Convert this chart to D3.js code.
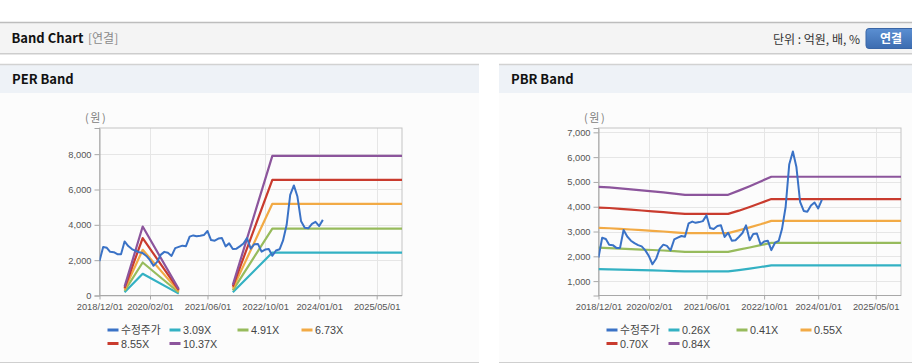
<!DOCTYPE html>
<html><head><meta charset="utf-8">
<script src="https://cdn.jsdelivr.net/npm/d3@7"></script>
<style>body{margin:0;background:#fff;} svg{display:block}</style>
</head><body><svg id="c" width="912" height="364"></svg>
<script>
// ---------- DATA ----------
const xTickLabels = ["2018/12/01","2020/02/01","2021/06/01","2022/10/01","2024/01/01","2025/05/01"];
const xDomain = ["2018-12-01","2025-12-01"];

// 수정주가 (monthly from 2018-12)
const priceStart = "2018-12-01";
const priceValues = [
  1950, 2750, 2700, 2470, 2450, 2340, 2340, 3060, 2800, 2630,
  2530, 2450, 2400, 2240, 2000, 1680, 1900, 2300, 2470, 2420,
  2240, 2680, 2750, 2820, 2790, 3330, 3400, 3350, 3380, 3420,
  3650, 3140, 3100, 3220, 3250, 2780, 2950, 2630, 2650, 2780,
  2940, 3250, 2650, 2900, 2920, 2480, 2600, 2630, 2250, 2550,
  2620, 3100, 4000, 5700, 6230, 5600, 4200, 3830, 3800, 4050,
  4170, 3930, 4280
];

// PER band (null = gap)
const perBandDates = ["2019-07-01","2019-12-01","2020-10-01","2021-06-01","2022-01-01","2022-12-01","2025-12-01"];
const per309  = [180, 1228, 108, null, 180, 2430, 2430];
const per491  = [260, 1867, 170, null, 285, 3790, 3790];
const per673  = [340, 2586, 235, null, 390, 5190, 5190];
const per855  = [420, 3247, 300, null, 496, 6540, 6540];
const per1037 = [500, 3904, 360, null, 600, 7900, 7900];
const perLabels = ["3.09X","4.91X","6.73X","8.55X","10.37X"];
const perYTicks = [0, 2000, 4000, 6000, 8000];
const perYDomain = [0, 9480];

// PBR band
const pbrBandDates = ["2018-12-01","2019-03-01","2019-06-01","2019-09-01","2019-12-01","2020-03-01","2020-06-01","2020-09-01","2020-12-01","2021-03-01","2021-06-01","2021-09-01","2021-12-01","2022-03-01","2022-06-01","2022-09-01","2022-12-01","2025-12-01"];
const pbr026 = [1480,1475,1467,1455,1442,1430,1418,1402,1395,1395,1395,1395,1395,1445,1505,1570,1636,1636];
const pbr041 = [2350,2333,2313,2294,2274,2255,2235,2211,2180,2180,2180,2180,2180,2269,2357,2450,2542,2542];
const pbr055 = [3150,3133,3107,3081,3055,3028,3002,2969,2937,2937,2937,2937,2937,3048,3166,3291,3430,3430];
const pbr070 = [3965,3948,3915,3882,3849,3816,3783,3742,3710,3710,3710,3710,3710,3841,3990,4147,4310,4310];
const pbr084 = [4800,4780,4740,4700,4660,4620,4580,4530,4480,4480,4480,4480,4480,4650,4830,5020,5210,5210];
const pbrLabels = ["0.26X","0.41X","0.55X","0.70X","0.84X"];
const pbrYTicks = [1000,2000,3000,4000,5000,6000,7000];
const pbrYDomain = [420, 7175];

const priceLabel = "수정주가";
const colors = ["#3a72c6","#33b1c3","#97bb5c","#f2aa45","#c93b2e","#8c559c"];

// ---------- DRAW ----------
const svg = d3.select("#c");
const parse = d3.timeParse("%Y-%m-%d");
const parseTick = d3.timeParse("%Y/%m/%d");
const priceDates = d3.timeMonth.range(parse(priceStart), d3.timeMonth.offset(parse(priceStart), priceValues.length));
const KR = "'Noto Sans CJK KR', 'Noto Sans', sans-serif";
const LAT = "'Liberation Sans', 'Noto Sans CJK KR', sans-serif";

// header
const defs = svg.append("defs");
const g1 = defs.append("linearGradient").attr("id","btn").attr("x1",0).attr("y1",0).attr("x2",0).attr("y2",1);
g1.append("stop").attr("offset","0%").attr("stop-color","#5b8fd2");
g1.append("stop").attr("offset","100%").attr("stop-color","#3c6cb0");
svg.append("rect").attr("x",0).attr("y",22).attr("width",912).attr("height",31).attr("fill","#f4f4f4");
svg.append("line").attr("x1",0).attr("x2",912).attr("y1",22.5).attr("y2",22.5).attr("stroke","#bdbdbd").attr("stroke-width",1.5);
svg.append("line").attr("x1",0).attr("x2",912).attr("y1",53.5).attr("y2",53.5).attr("stroke","#cdcdcd");
svg.append("line").attr("x1",0).attr("x2",912).attr("y1",54.5).attr("y2",54.5).attr("stroke","#e6e6e6");
svg.append("text").attr("x",11.5).attr("y",43).attr("font-family",KR).attr("font-weight","bold").attr("font-size",13).attr("fill","#111").text("Band Chart");
svg.append("text").attr("x",88).attr("y",43).attr("font-family",KR).attr("font-size",12).attr("fill","#8a8a8a").text("[연결]");
svg.append("text").attr("x",860).attr("y",43.5).attr("text-anchor","end").attr("font-family",KR).attr("font-size",12).attr("fill","#333").text("단위 : 억원, 배, %");
svg.append("rect").attr("x",866).attr("y",28.5).attr("width",52).attr("height",20).attr("rx",3).attr("fill","url(#btn)").attr("stroke","#3a66a6");
svg.append("text").attr("x",891).attr("y",43).attr("text-anchor","middle").attr("font-family",KR).attr("font-weight","bold").attr("font-size",12).attr("fill","#fff").text("연결");

function panel(x0, x1, title) {
  svg.append("rect").attr("x",x0).attr("y",64).attr("width",x1-x0).attr("height",299).attr("fill","#fcfcfc");
  svg.append("rect").attr("x",x0).attr("y",65).attr("width",x1-x0).attr("height",28).attr("fill","#eef2f7");
  svg.append("line").attr("x1",x0).attr("x2",x1).attr("y1",64.5).attr("y2",64.5).attr("stroke","#d2d2d2").attr("stroke-width",1.5);
  svg.append("line").attr("x1",x0).attr("x2",x1).attr("y1",362.5).attr("y2",362.5).attr("stroke","#cfcfcf");
  svg.append("text").attr("x",x0+12).attr("y",84).attr("font-family",KR).attr("font-weight","bold").attr("font-size",13).attr("fill","#111").text(title);
}
panel(0, 479, "PER Band");
panel(499, 912, "PBR Band");

function chart(cfg) {
  const top = 128, bottom = 295.5;
  const x = d3.scaleTime().domain(xDomain.map(parse)).range([cfg.left, cfg.right]);
  const y = d3.scaleLinear().domain(cfg.yDomain).range([bottom, top]);
  const g = svg.append("g");
  const tickDates = xTickLabels.map(parseTick);

  // grid
  g.selectAll(".hg").data(cfg.yTicks).join("line")
    .attr("x1",cfg.left).attr("x2",cfg.right)
    .attr("y1",d=>Math.round(y(d))+0.5).attr("y2",d=>Math.round(y(d))+0.5)
    .attr("stroke","#e6e6e6");
  g.selectAll(".vg").data(tickDates.slice(1)).join("line")
    .attr("x1",d=>Math.round(x(d))+0.5).attr("x2",d=>Math.round(x(d))+0.5)
    .attr("y1",top).attr("y2",bottom)
    .attr("stroke","#e6e6e6");
  // border
  g.append("rect").attr("x",cfg.left).attr("y",top).attr("width",cfg.right-cfg.left).attr("height",bottom-top)
    .attr("fill","none").attr("stroke","#c4c4c4");

  // axes
  const ya = d3.axisLeft(y).tickValues(cfg.yTicks).tickFormat(d3.format(",")).tickSize(5).tickPadding(3);
  const yg = g.append("g").attr("transform",`translate(${cfg.left},0)`).call(ya);
  const xa = d3.axisBottom(x).tickValues(tickDates).tickFormat((d,i)=>xTickLabels[i]).tickSize(4).tickPadding(4);
  const xg = g.append("g").attr("transform",`translate(0,${bottom})`).call(xa);
  [yg, xg].forEach(a => {
    a.select(".domain").attr("stroke","#a8a8a8");
    a.selectAll(".tick line").attr("stroke","#a8a8a8");
    a.selectAll("text").attr("font-family",LAT).attr("font-size",9.3).attr("fill","#555");
  });
  xg.select(".domain").attr("d",`M${cfg.left},0H${cfg.right}`);

  // (원)
  g.append("text").attr("x",cfg.left-14.5).attr("y",122).attr("font-family",KR).attr("font-size",11).attr("letter-spacing",1.6).attr("fill","#808080").text("(원)");

  // lines
  const clip = "clip" + cfg.id;
  defs.append("clipPath").attr("id",clip).append("rect").attr("x",cfg.left).attr("y",top-2).attr("width",cfg.right-cfg.left).attr("height",bottom-top+4);
  const lg = g.append("g").attr("clip-path",`url(#${clip})`);
  const line = d3.line().defined(d=>d[1]!=null).x(d=>x(d[0])).y(d=>y(d[1]));
  const bandDates = cfg.bandDates.map(parse);
  cfg.bands.forEach((vals,i) => {
    lg.append("path").datum(bandDates.map((d,j)=>[d, vals[j]]))
      .attr("d",line).attr("fill","none").attr("stroke",colors[i+1]).attr("stroke-width",2.2).attr("stroke-linejoin","round");
  });
  lg.append("path").datum(priceDates.map((d,j)=>[d, priceValues[j]]))
    .attr("d",line).attr("fill","none").attr("stroke",colors[0]).attr("stroke-width",2).attr("stroke-linejoin","round");

  // legend
  const names = [priceLabel].concat(cfg.labels);
  const colX = [0, 62, 130, 194];
  names.forEach((n,i) => {
    const lx = cfg.left + 8 + colX[i % 4];
    const ly = i < 4 ? 330 : 343.5;
    g.append("line").attr("x1",lx).attr("x2",lx+11).attr("y1",ly).attr("y2",ly).attr("stroke",colors[i]).attr("stroke-width",3);
    g.append("text").attr("x",lx+13.5).attr("y",ly+4).attr("font-family",LAT).attr("font-size",10.8).attr("fill","#444").text(n);
  });
}

chart({id:"per", left:99.5, right:402, yDomain:perYDomain, yTicks:perYTicks, bandDates:perBandDates,
  bands:[per309, per491, per673, per855, per1037], labels:perLabels});
chart({id:"pbr", left:598.5, right:901, yDomain:pbrYDomain, yTicks:pbrYTicks, bandDates:pbrBandDates,
  bands:[pbr026, pbr041, pbr055, pbr070, pbr084], labels:pbrLabels});
</script></body></html>
